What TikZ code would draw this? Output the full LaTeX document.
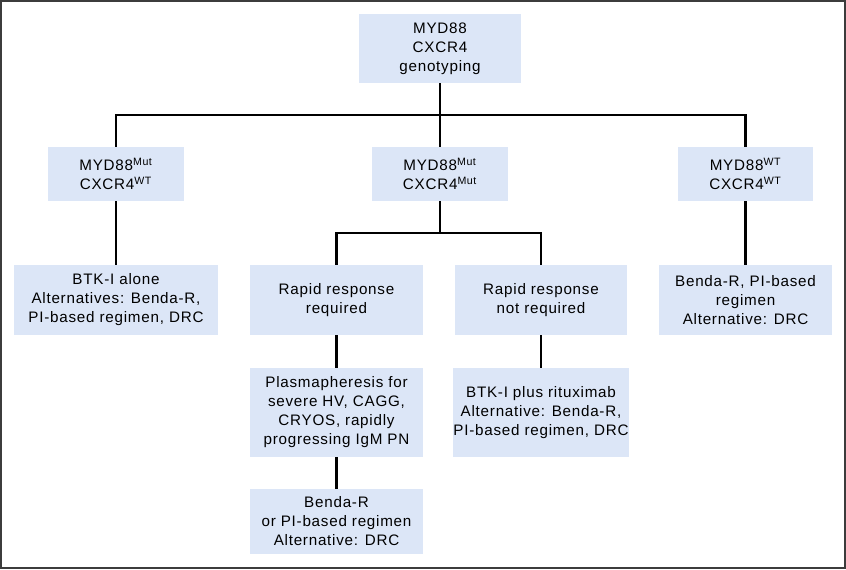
\documentclass[tikz,border=0pt]{standalone}
\usepackage{fontspec}
\setmainfont[LetterSpace=5]{Liberation Sans}
\definecolor{boxblue}{RGB}{220,230,247}
\definecolor{frame}{RGB}{60,60,60}
\begin{document}
\begin{tikzpicture}[x=0.75pt,y=-0.75pt,
  box/.style={fill=boxblue, align=center, inner sep=0pt, text=black,
    font=\fontsize{11.4}{14.25}\selectfont},
  conn/.style={draw=black, line width=1.9pt}]
\useasboundingbox (0,0) rectangle (846,569);
\draw[frame, line width=1.3pt] (0.9,0.9) rectangle (845.1,568.1);
% nodes
\node[box, minimum width=121.5pt, minimum height=51.75pt] (top) at (440,48.5) {MYD88\\CXCR4\\genotyping};
\node[box, minimum width=102pt, minimum height=40.5pt] (l2L) at (116,174) {MYD88\textsuperscript{Mut}\\CXCR4\textsuperscript{WT}};
\node[box, minimum width=102pt, minimum height=40.5pt] (l2M) at (440,174) {MYD88\textsuperscript{Mut}\\CXCR4\textsuperscript{Mut}};
\node[box, minimum width=101.25pt, minimum height=40.5pt] (l2R) at (745.5,174) {MYD88\textsuperscript{WT}\\CXCR4\textsuperscript{WT}};
\node[box, minimum width=153pt, minimum height=52.5pt] (btk) at (116,300) {BTK-I alone\\Alternatives: Benda-R,\\PI-based regimen, DRC};
\node[box, minimum width=129.75pt, minimum height=52.5pt] (rr) at (336.5,300) {Rapid response\\required};
\node[box, minimum width=129pt, minimum height=52.5pt] (rnr) at (541,300) {Rapid response\\not required};
\node[box, minimum width=129.75pt, minimum height=52.5pt] (bpi) at (745.5,300) {Benda-R, PI-based\\regimen\\Alternative: DRC};
\node[box, minimum width=129.75pt, minimum height=66.75pt] (plasma) at (336.5,412.5) {Plasmapheresis for\\severe HV, CAGG,\\CRYOS, rapidly\\progressing IgM PN};
\node[box, minimum width=129pt, minimum height=66.75pt] (btkr) at (541,412.5) {BTK-I plus rituximab\\Alternative: Benda-R,\\PI-based regimen, DRC};
\node[box, minimum width=129.75pt, minimum height=48.75pt] (bend2) at (336.5,521.5) {Benda-R\\or PI-based regimen\\Alternative: DRC};
% junctions
\coordinate (j1) at (440,115);
\coordinate (j2) at (440,233);
% connectors
\draw[conn] (top.south) -- (j1);
\draw[conn] (l2L.north) |- (j1) -| (l2R.north);
\draw[conn] (j1) -- (l2M.north);
\draw[conn] (l2L.south) -- (btk.north);
\draw[conn] (l2R.south) -- (bpi.north);
\draw[conn] (l2M.south) -- (j2);
\draw[conn] (rr.north) |- (j2) -| (rnr.north);
\draw[conn] (rr.south) -- (plasma.north);
\draw[conn] (rnr.south) -- (btkr.north);
\draw[conn] (plasma.south) -- (bend2.north);
\end{tikzpicture}
\end{document}
